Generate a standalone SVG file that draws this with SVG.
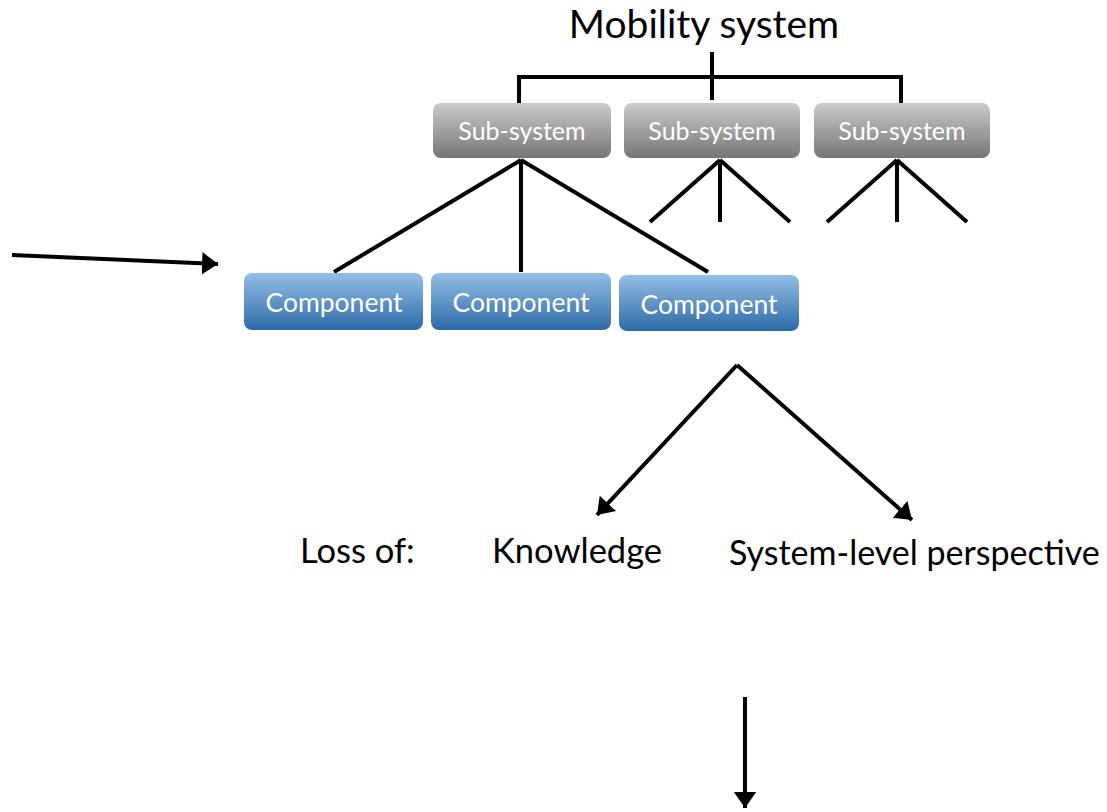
<svg xmlns="http://www.w3.org/2000/svg" width="1107" height="812" viewBox="0 0 1107 812">
<style>
.t{font-family:Lato,"Noto Sans","Liberation Sans",sans-serif;fill:#000}
.bt{font-family:Lato,"Noto Sans","Liberation Sans",sans-serif;fill:#fff;text-anchor:middle}
.ln{stroke:#000;stroke-width:4;fill:none}
.ar{stroke:#000;stroke-width:4;fill:none;marker-end:url(#ah)}
</style>
<defs>
<linearGradient id="gg" x1="0" y1="0" x2="0" y2="1">
<stop offset="0" stop-color="#cbcbcb"/><stop offset="1" stop-color="#767676"/>
</linearGradient>
<linearGradient id="bg" x1="0" y1="0" x2="0" y2="1">
<stop offset="0" stop-color="#94bfe6"/><stop offset="1" stop-color="#2e6aa8"/>
</linearGradient>
<marker id="ah" markerWidth="6" markerHeight="6" refX="4" refY="3" orient="auto" markerUnits="strokeWidth">
<path d="M0,0.2 L4,3 L0,5.8 Z" fill="#000"/>
</marker>
</defs>
<text class="t" x="704" y="38" font-size="39" text-anchor="middle">Mobility system</text>
<g id="connectors">
<path class="ln" d="M712,52 V100 M519,103 V77 H901 V103"/>
<path class="ln" d="M521,160 L334,272 M521,160 V272 M521,160 L708,272"/>
<path class="ln" d="M720,160 L650,222 M720,160 V222 M720,160 L790,222"/>
<path class="ln" d="M897,160 L827,222 M897,160 V222 M897,160 L967,222"/>
<path class="ar" d="M12,255 L218,264"/>
<path class="ar" d="M737,365 L597,515"/>
<path class="ar" d="M737,365 L912,520"/>
<path class="ar" d="M745,697 V808"/>
</g>
<g id="sub1"><rect x="433" y="103" width="178" height="55" rx="8" fill="url(#gg)"/><text class="bt" x="522" y="140" font-size="25">Sub-system</text></g>
<g id="sub2"><rect x="624" y="103" width="176" height="55" rx="8" fill="url(#gg)"/><text class="bt" x="712" y="140" font-size="25">Sub-system</text></g>
<g id="sub3"><rect x="814" y="103" width="176" height="55" rx="8" fill="url(#gg)"/><text class="bt" x="902" y="140" font-size="25">Sub-system</text></g>
<g id="comp1"><rect x="244" y="273" width="179" height="57" rx="8" fill="url(#bg)"/><text class="bt" x="334" y="312" font-size="26.5">Component</text></g>
<g id="comp2"><rect x="431" y="273" width="180" height="57" rx="8" fill="url(#bg)"/><text class="bt" x="521" y="312" font-size="26.5">Component</text></g>
<g id="comp3"><rect x="619" y="275" width="180" height="56" rx="8" fill="url(#bg)"/><text class="bt" x="709" y="314" font-size="26.5">Component</text></g>
<text class="t" x="300" y="563" font-size="34.5">Loss of:</text>
<text class="t" x="492" y="563" font-size="34.5">Knowledge</text>
<text class="t" x="729" y="565" font-size="34">System-level perspective</text>
</svg>
